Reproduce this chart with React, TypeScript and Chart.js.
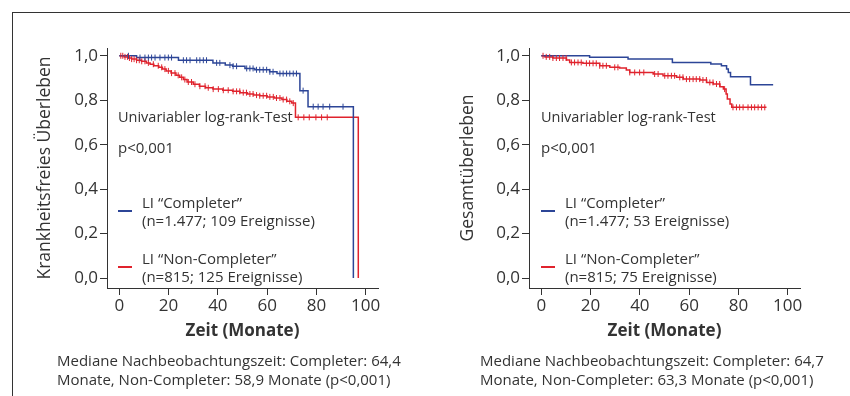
import React, { useEffect, useRef } from 'react';
import { Chart, registerables } from 'chart.js';

Chart.register(...registerables);

const X_TICKS = [0, 20, 40, 60, 80, 100];
const Y_TICKS = [0, 0.2, 0.4, 0.6, 0.8, 1.0];

// Left panel: Krankheitsfreies Überleben (disease-free survival)
const dfsCompleterTime = [0, 7, 24, 38, 43, 46, 51, 55, 61, 64, 73.3, 76.6, 95];
const dfsCompleterSurv = [1, 0.992, 0.98, 0.968, 0.958, 0.953, 0.943, 0.937, 0.928, 0.92, 0.843, 0.771, 0];
const dfsCompleterCensor = [3.7, 8.4, 10.4, 11.8, 13.1, 14.5, 16.5, 18.5, 19.9, 21.2, 26, 27.3, 28.7, 31.4, 32.7, 34.1, 35.4, 39.5, 40.8, 44.9, 46.2, 47.6, 51.7, 53, 54.3, 55.7, 57, 58.4, 59.8, 61.1, 62.4, 65.2, 66.5, 67.9, 69.2, 70.6, 71.9, 74.6, 78.7, 80.7, 82.7, 85.4, 90.8];

const dfsNonCompleterTime = [0, 2, 3.5, 5, 7, 9, 11, 12.5, 14, 16, 17.5, 19, 21, 23, 24.5, 26, 27.5, 30, 32.5, 35, 38, 42, 46, 49, 52, 54.5, 57, 60, 63, 66, 68, 70, 71.5, 97];
const dfsNonCompleterSurv = [1, 0.995, 0.99, 0.985, 0.98, 0.975, 0.968, 0.962, 0.955, 0.948, 0.94, 0.932, 0.922, 0.912, 0.903, 0.893, 0.882, 0.872, 0.863, 0.856, 0.85, 0.845, 0.84, 0.834, 0.828, 0.823, 0.82, 0.815, 0.81, 0.803, 0.795, 0.787, 0.723, 0];
const dfsNonCompleterCensor = [0.6, 1.4, 2.3, 3.3, 4.1, 5, 6, 7, 8.1, 9.1, 10.4, 11.8, 13.8, 15.8, 17.2, 18.5, 19.9, 21.2, 22.6, 23.9, 25.3, 26.6, 28, 29.3, 30.7, 32.7, 34.8, 36.1, 38.1, 40.2, 42.2, 44.2, 46.2, 47.6, 48.9, 50.3, 51.6, 53, 54.3, 55.7, 57, 58.4, 59.8, 61.1, 62.5, 63.8, 65.2, 66.5, 67.9, 69.2, 70.6, 72.6, 74.9, 77.1, 79.8, 82.1, 84.4];

// Right panel: Gesamtüberleben (overall survival)
const osCompleterTime = [0, 19.6, 35.2, 53.2, 68.8, 73.1, 75.2, 75.9, 76.8, 84.9, 94.1];
const osCompleterSurv = [1, 0.993, 0.985, 0.97, 0.963, 0.955, 0.94, 0.925, 0.906, 0.87, 0.87];
const osCompleterCensor: number[] = [];

const osNonCompleterTime = [0, 1.5, 4.7, 10.2, 11.5, 16.9, 23.7, 27.8, 31.8, 34.5, 35.9, 45.4, 49.4, 54.9, 57.6, 64.4, 67.1, 69.8, 72.5, 73.9, 75, 75.5, 76.6, 77.3, 91.4];
const osNonCompleterSurv = [1, 0.995, 0.99, 0.981, 0.97, 0.966, 0.955, 0.948, 0.945, 0.936, 0.925, 0.918, 0.91, 0.903, 0.895, 0.891, 0.88, 0.873, 0.861, 0.85, 0.828, 0.806, 0.783, 0.768, 0.768];
const osNonCompleterCensor = [0.7, 2, 3.4, 4.7, 6.1, 7.4, 8.8, 10.1, 12.2, 13.5, 14.9, 16.2, 18.3, 19.6, 21, 22.3, 23.7, 25, 26.4, 29.8, 31.1, 35.9, 37.9, 39.9, 41.6, 46, 47.4, 50.1, 51.4, 52.8, 54.1, 56.2, 57.5, 58.9, 60.2, 61.6, 62.9, 64.3, 65.6, 67, 68.4, 69.7, 71.1, 72.4, 74.4, 77.8, 79.2, 80.5, 81.9, 83.9, 85.3, 86.6, 88, 89.4, 90.7];

const BLUE = '#2c4597';
const RED = '#e0232d';
const INK = '#333333';
const FONT = '"Open Sans", "Noto Sans", sans-serif';

Chart.defaults.font.family = FONT;
Chart.defaults.color = INK;

function stepPoints(t: number[], s: number[]) {
  return t.map((x, i) => ({ x, y: s[i] }));
}

function survAt(t: number[], s: number[], x: number) {
  let v = s[0];
  for (let i = 0; i < t.length; i++) {
    if (t[i] <= x) v = s[i];
  }
  return v;
}

function censorPoints(c: number[], t: number[], s: number[]) {
  return c.map((x) => ({ x, y: survAt(t, s, x) }));
}

type Curve = { t: number[]; s: number[]; c: number[]; color: string };

type KMProps = {
  left: number;
  width: number;
  chartLeft: number;
  chartRight: number;
  yTitle: string;
  yTitlePad: number;
  yTitleAlign: 'start' | 'center' | 'end';
  curves: Curve[];
};

function KMChart({ left, width, chartLeft, chartRight, yTitle, yTitlePad, yTitleAlign, curves }: KMProps) {
  const ref = useRef<HTMLCanvasElement>(null);
  useEffect(() => {
    const datasets: any[] = [];
    curves.forEach((c) => {
      datasets.push({
        type: 'line',
        data: stepPoints(c.t, c.s),
        borderColor: c.color,
        borderWidth: 1.5,
        stepped: true,
        pointRadius: 0,
        fill: false,
        order: 2,
      });
      datasets.push({
        type: 'scatter',
        data: censorPoints(c.c, c.t, c.s),
        showLine: false,
        pointStyle: 'line',
        pointRotation: 90,
        pointRadius: 3,
        pointBorderWidth: 1,
        pointBorderColor: c.color,
        borderColor: c.color,
        backgroundColor: c.color,
        order: 1,
      });
    });
    const chart = new Chart(ref.current as HTMLCanvasElement, {
      type: 'line',
      data: { datasets },
      options: {
        animation: false,
        responsive: false,
        devicePixelRatio: 1,
        events: [],
        layout: { padding: { left: 0, top: 48, right: width - chartRight, bottom: 0 } },
        plugins: { legend: { display: false }, tooltip: { enabled: false } },
        scales: {
          x: {
            type: 'linear',
            min: -5,
            max: 105,
            afterBuildTicks: (s: any) => {
              s.ticks = X_TICKS.map((v) => ({ value: v }));
            },
            afterFit: (s: any) => {
              s.height = 108;
            },
            ticks: { font: { size: 17 }, color: INK, padding: 1, maxRotation: 0, autoSkip: false },
            grid: { drawOnChartArea: false, drawTicks: true, tickLength: 7, color: INK, lineWidth: 1 },
            border: { display: true, color: INK, width: 1 },
            title: {
              display: true,
              text: 'Zeit (Monate)',
              color: INK,
              font: { size: 17, weight: 'bold' },
              padding: { top: 0, bottom: 55 },
            },
          },
          y: {
            type: 'linear',
            min: -0.045,
            max: 1.035,
            afterBuildTicks: (s: any) => {
              s.ticks = Y_TICKS.map((v) => ({ value: v }));
            },
            afterFit: (s: any) => {
              s.width = chartLeft;
            },
            ticks: {
              font: { size: 17 },
              color: INK,
              padding: 2,
              callback: (v: any) => Number(v).toFixed(1).replace('.', ','),
            },
            grid: { drawOnChartArea: false, drawTicks: true, tickLength: 7, color: INK, lineWidth: 1 },
            border: { display: true, color: INK, width: 1 },
            title: {
              display: true,
              text: yTitle,
              color: INK,
              align: yTitleAlign,
              font: { size: 17.5 },
              padding: { top: yTitlePad, bottom: 0 },
            },
          },
        },
      } as any,
    });
    return () => chart.destroy();
  }, []);
  return (
    <canvas
      ref={ref}
      width={width}
      height={396}
      style={{ position: 'absolute', left, top: 0, width, height: 396 }}
    />
  );
}

const textStyle: React.CSSProperties = {
  position: 'absolute',
  fontFamily: FONT,
  fontSize: 15,
  color: INK,
  whiteSpace: 'nowrap',
  lineHeight: '18px',
};

function Annotations({ x, lineX, nCompleter, nNonCompleter }: { x: number; lineX: number; nCompleter: string; nNonCompleter: string }) {
  return (
    <>
      <div style={{ ...textStyle, fontSize: 14.5, left: x, top: 108 }}>Univariabler log-rank-Test</div>
      <div style={{ ...textStyle, left: x, top: 138 }}>p&lt;0,001</div>
      <div style={{ position: 'absolute', left: lineX, top: 210, width: 14, height: 2, background: BLUE }} />
      <div style={{ ...textStyle, left: lineX + 24, top: 193 }}>
        LI “Completer”
        <br />
        {nCompleter}
      </div>
      <div style={{ position: 'absolute', left: lineX, top: 266, width: 14, height: 2, background: RED }} />
      <div style={{ ...textStyle, left: lineX + 24, top: 249 }}>
        LI “Non-Completer”
        <br />
        {nNonCompleter}
      </div>
    </>
  );
}

const noteStyle: React.CSSProperties = {
  position: 'absolute',
  fontFamily: FONT,
  fontSize: 15,
  color: INK,
  whiteSpace: 'nowrap',
  lineHeight: '19px',
  top: 351,
};

export default function App() {
  return (
    <div style={{ position: 'fixed', left: 0, top: 0, width: 850, height: 396, overflow: 'hidden', background: '#fff' }}>
      <div style={{ position: 'absolute', left: 12, top: 12, width: 900, height: 500, borderLeft: `1px solid ${INK}`, borderTop: `1px solid ${INK}` }} />
      <KMChart
        left={0}
        width={420}
        chartLeft={107}
        chartRight={378}
        yTitle="Krankheitsfreies Überleben"
        yTitlePad={34.5}
        yTitleAlign="center"
        curves={[
          { t: dfsCompleterTime, s: dfsCompleterSurv, c: dfsCompleterCensor, color: BLUE },
          { t: dfsNonCompleterTime, s: dfsNonCompleterSurv, c: dfsNonCompleterCensor, color: RED },
        ]}
      />
      <KMChart
        left={420}
        width={430}
        chartLeft={109}
        chartRight={380}
        yTitle="Gesamtüberleben"
        yTitlePad={37.5}
        yTitleAlign="center"
        curves={[
          { t: osCompleterTime, s: osCompleterSurv, c: osCompleterCensor, color: BLUE },
          { t: osNonCompleterTime, s: osNonCompleterSurv, c: osNonCompleterCensor, color: RED },
        ]}
      />
      <Annotations x={118} lineX={118} nCompleter="(n=1.477; 109 Ereignisse)" nNonCompleter="(n=815; 125 Ereignisse)" />
      <Annotations x={541} lineX={541} nCompleter="(n=1.477; 53 Ereignisse)" nNonCompleter="(n=815; 75 Ereignisse)" />
      <div style={{ ...noteStyle, left: 57 }}>
        Mediane Nachbeobachtungszeit: Completer: 64,4
        <br />
        Monate, Non-Completer: 58,9 Monate (p&lt;0,001)
      </div>
      <div style={{ ...noteStyle, left: 480 }}>
        Mediane Nachbeobachtungszeit: Completer: 64,7
        <br />
        Monate, Non-Completer: 63,3 Monate (p&lt;0,001)
      </div>
    </div>
  );
}
